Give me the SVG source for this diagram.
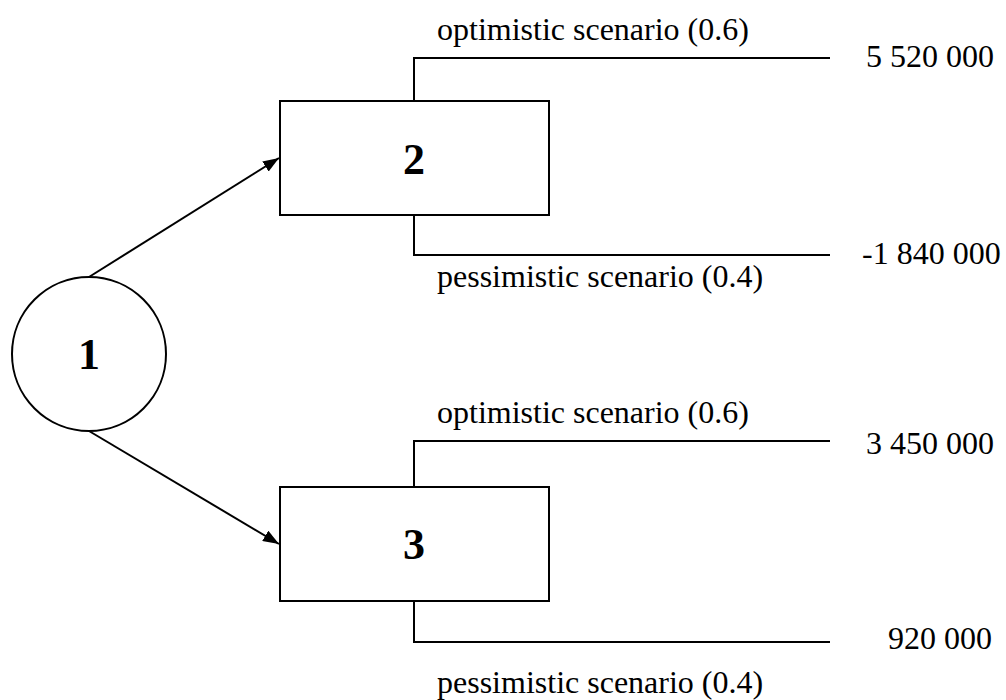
<svg xmlns="http://www.w3.org/2000/svg" width="1006" height="700" viewBox="0 0 1006 700">
<style>
.s{fill:none;stroke:#000;stroke-width:2}
.n{fill:#fff;stroke:#000;stroke-width:2}
.t{font-family:"Liberation Serif","Times New Roman",serif;font-size:32px;fill:#000}
.b{font-family:"Liberation Serif","Times New Roman",serif;font-size:44px;font-weight:bold;fill:#000;text-anchor:middle}
</style>
<defs>
<marker id="ah" viewBox="0 0 16 12" refX="16" refY="6" markerWidth="16" markerHeight="12" markerUnits="userSpaceOnUse" orient="auto">
<path d="M0,0 L16,6 L0,12 z" fill="#000"/>
</marker>
</defs>
<rect width="1006" height="700" fill="#fff"/>
<g id="connectors">
<line class="s" x1="89" y1="277" x2="279" y2="158" marker-end="url(#ah)"/>
<line class="s" x1="89" y1="431" x2="279" y2="544" marker-end="url(#ah)"/>
<path class="s" d="M414,101 V58 H830"/>
<path class="s" d="M414,215 V255 H830"/>
<path class="s" d="M414,487 V441 H830"/>
<path class="s" d="M414,601 V642 H830"/>
</g>
<g id="node1">
<circle class="n" cx="89" cy="354" r="77"/>
<text class="b" x="89" y="369">1</text>
</g>
<g id="node2">
<rect class="n" x="280" y="101" width="269" height="114"/>
<text class="b" x="414" y="174">2</text>
</g>
<g id="node3">
<rect class="n" x="280" y="487" width="269" height="114"/>
<text class="b" x="414" y="559">3</text>
</g>
<g id="labels">
<text class="t" x="437" y="40">optimistic scenario (0.6)</text>
<text class="t" x="866" y="67">5 520 000</text>
<text class="t" x="437" y="287">pessimistic scenario (0.4)</text>
<text class="t" x="862" y="264">-1 840 000</text>
<text class="t" x="437" y="423">optimistic scenario (0.6)</text>
<text class="t" x="866" y="454">3 450 000</text>
<text class="t" x="437" y="693">pessimistic scenario (0.4)</text>
<text class="t" x="888" y="649">920 000</text>
</g>
</svg>
